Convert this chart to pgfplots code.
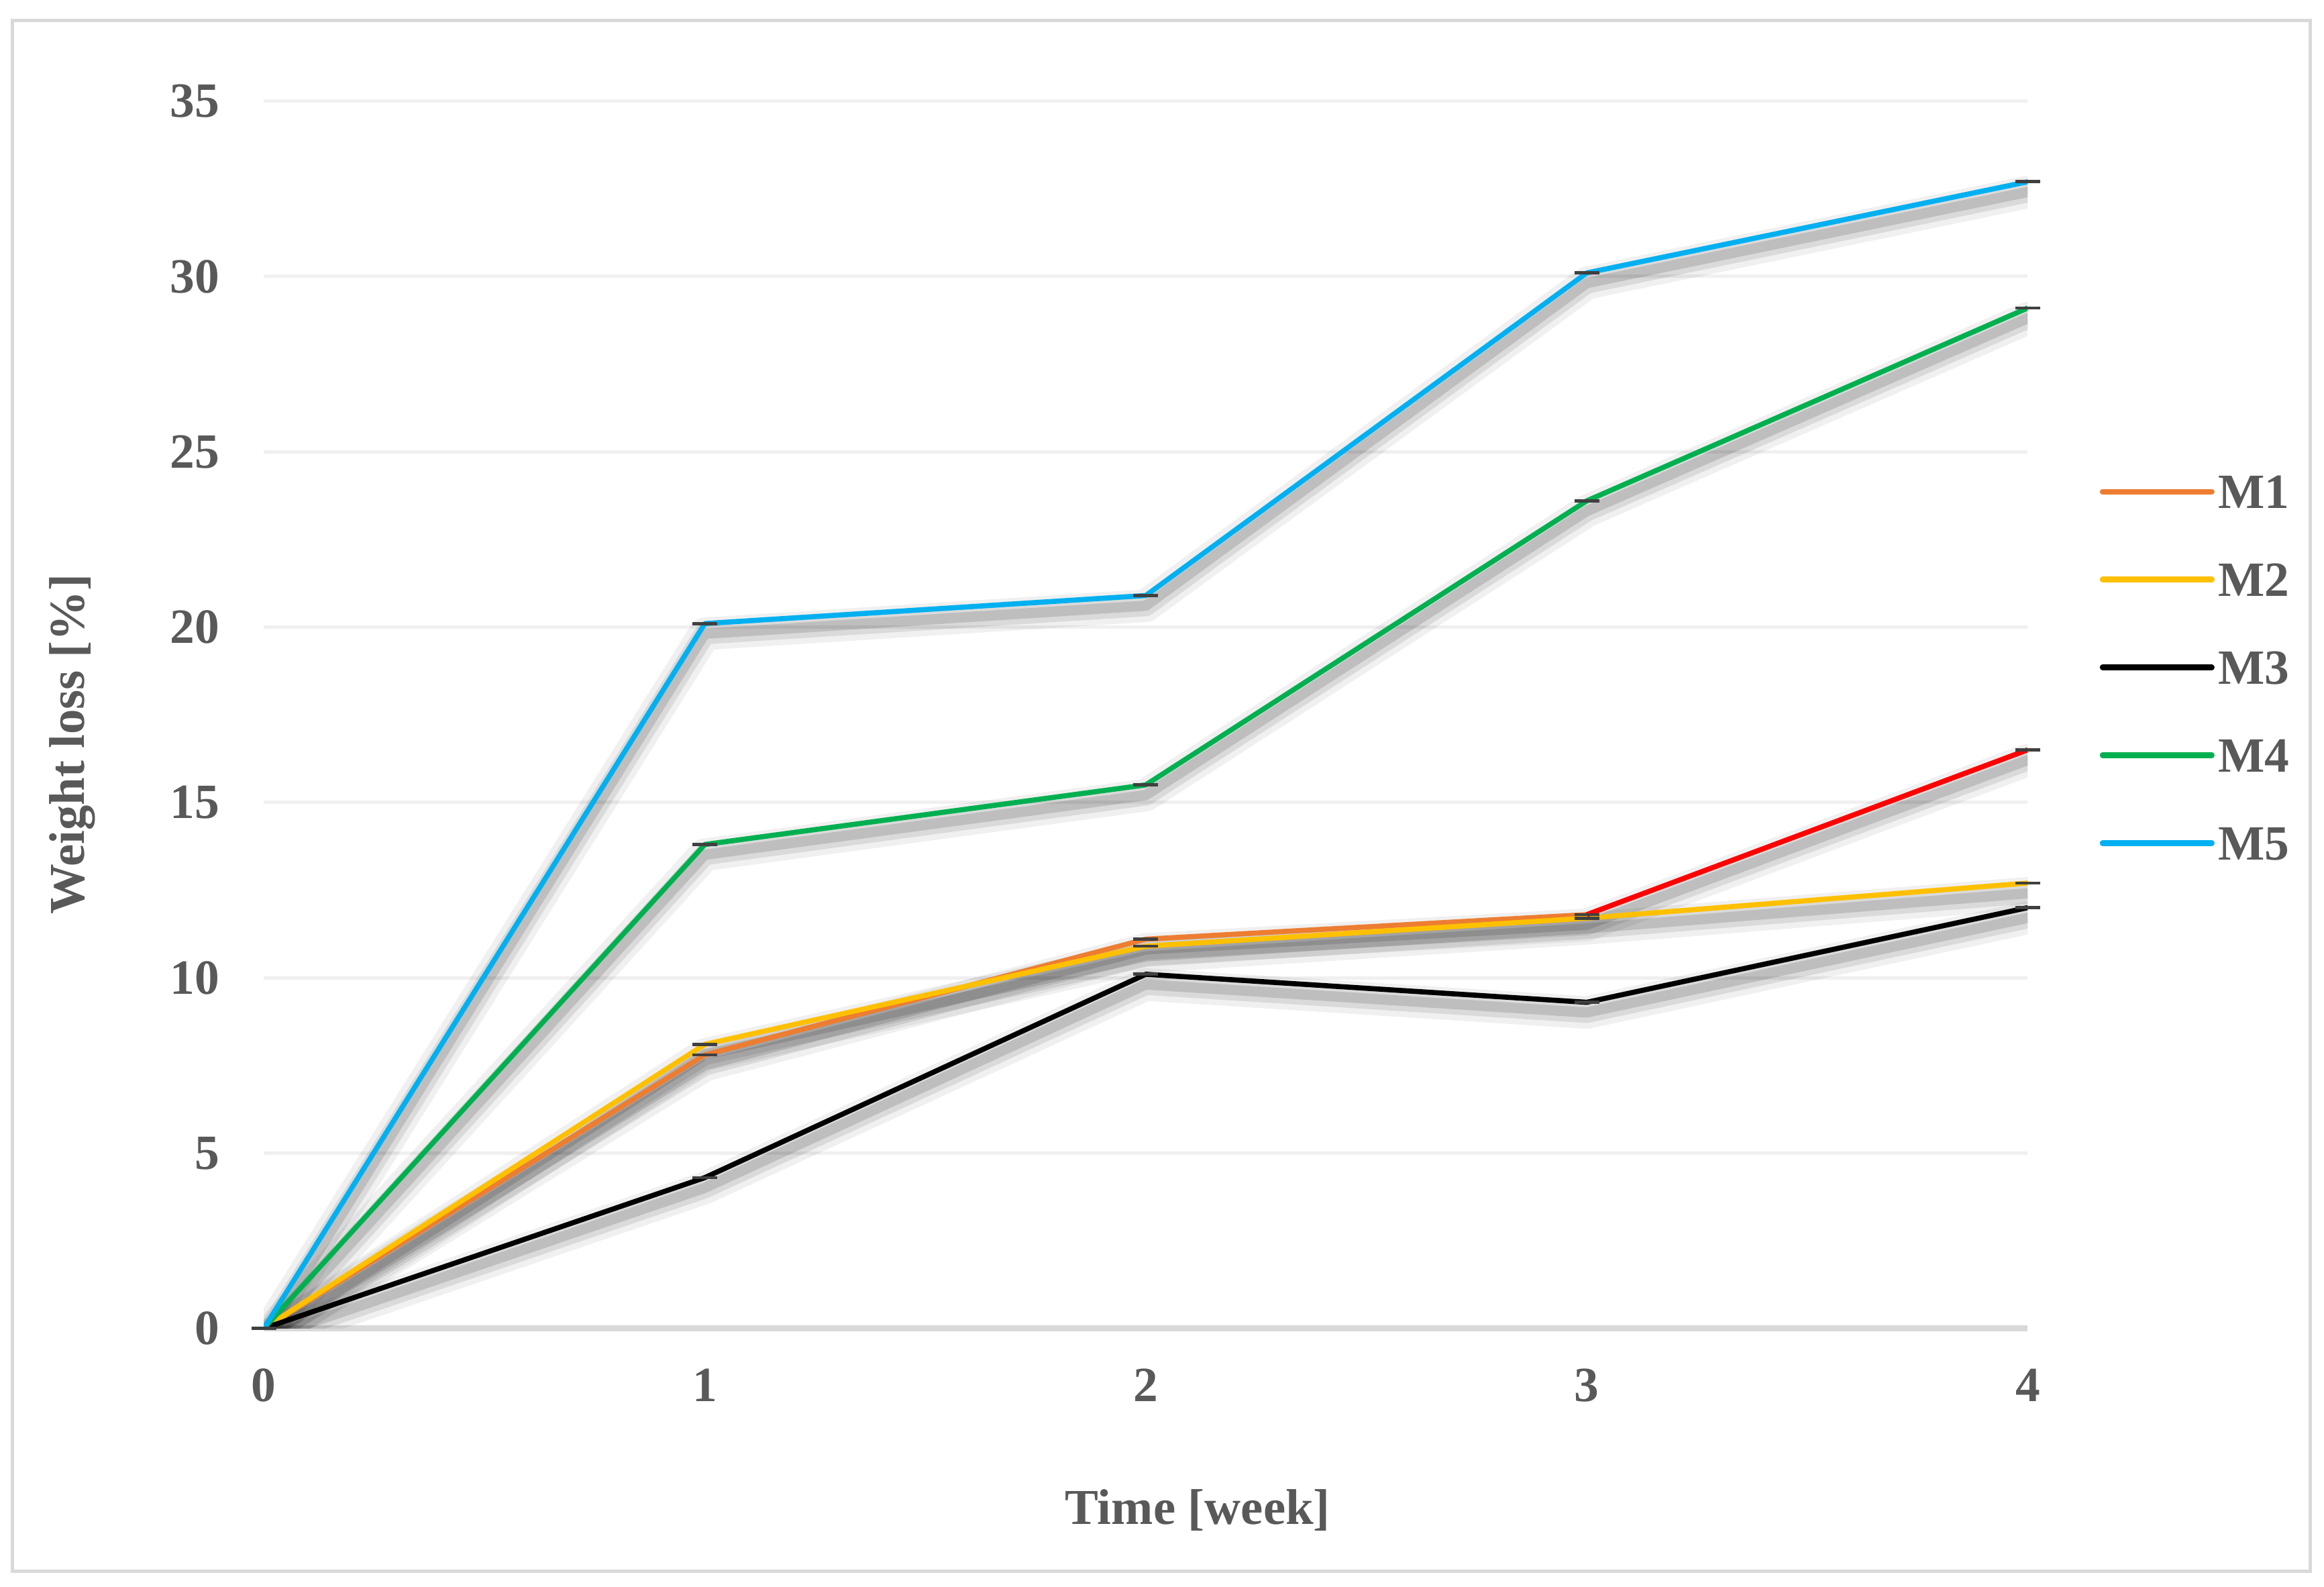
\documentclass[border=0pt]{standalone}
\usepackage{fontspec}
\setmainfont{Liberation Serif}
\usepackage{pgfplots}
\usepackage{pgfplotstable}
\pgfplotsset{compat=1.18}
\definecolor{cM1}{HTML}{ED7D31}
\definecolor{cM2}{HTML}{FFC000}
\definecolor{cM4}{HTML}{00B050}
\definecolor{cM5}{HTML}{00B0F0}
\definecolor{cRed}{HTML}{FF0000}
\definecolor{txt}{HTML}{595959}
\definecolor{gridc}{HTML}{F0F0F0}
\definecolor{axc}{HTML}{D9D9D9}
\definecolor{capc}{HTML}{404040}

\pgfplotstableread{
x M1 M2 M3 M4 M5
0 0 0 0 0 0
1 7.8 8.1 4.3 13.8 20.1
2 11.1 10.9 10.1 15.5 20.9
3 11.8 11.7 9.3 23.6 30.1
4 16.5 12.7 12.0 29.1 32.7
}\data

\begin{document}
\begin{tikzpicture}
\path[use as bounding box] (0,0) rectangle (500pt,341.23pt);
\begin{axis}[
  at={(56.76pt,55.49pt)}, anchor=south west,
  scale only axis, width=379.5pt, height=264pt,
  xmin=0, xmax=4, ymin=0, ymax=35,
  xtick={0,1,2,3,4}, ytick={0,5,...,35},
  axis line style={draw=none},
  major tick length=0pt,
  ymajorgrids=true,
  grid style={draw=gridc, line width=0.72pt},
  extra y ticks={0}, extra y tick labels={},
  extra y tick style={grid style={draw=axc, line width=1.2pt}},
  /pgf/number format/assume math mode=true,
  ticklabel style={font=\fontsize{10.6}{12}\selectfont\bfseries, text=txt},
  x tick label style={yshift=-5.2pt},
  y tick label style={xshift=-6pt},
  xlabel={Time [week]},
  ylabel={Weight loss [\%]},
  label style={font=\fontsize{10.8}{12}\selectfont\bfseries, text=txt},
  x label style={at={(axis description cs:0.5294,-0.1595)}, anchor=base},
  y label style={at={(axis description cs:-0.1017,0.476)}, anchor=base, rotate=0},
  legend cell align=left,
  legend style={at={(axis description cs:1.0403,0.5386)}, anchor=west, draw=none, fill=none,
    font=\fontsize{10.6}{12}\selectfont\bfseries, text=txt,
    row sep=11.6pt, inner sep=0pt,
    nodes={inner xsep=0.8pt, inner ysep=0pt, text height=7.3pt, text depth=0pt}},
  legend image code/.code={\draw[#1, mark=none, line width=1.2pt, line cap=round] (0pt,0pt) -- (23.5pt,0pt);},
  every axis plot/.append style={line width=1.1pt, line join=round, mark=-, mark size=2.65pt,
    mark options={draw=capc, line width=0.7pt}},
  shadow/.style={forget plot, draw=black, no marks, line join=round, line cap=round, yshift=-2.2pt},
]
\pgfplotsinvokeforeach{M1,M2,M3,M4,M5}{
  \addplot[shadow, opacity=0.06, line width=7pt] table[x=x, y=#1]{\data};
  \addplot[shadow, opacity=0.09, line width=4.5pt] table[x=x, y=#1]{\data};
  \addplot[shadow, opacity=0.13, line width=2.2pt] table[x=x, y=#1]{\data};
}
\addplot[color=cM1, restrict x to domain=0:3] table[x=x, y=M1]{\data};
\addlegendentry{M1}
\addplot[color=cM2] table[x=x, y=M2]{\data};
\addlegendentry{M2}
\addplot[color=black] table[x=x, y=M3]{\data};
\addlegendentry{M3}
\addplot[color=cM4] table[x=x, y=M4]{\data};
\addlegendentry{M4}
\addplot[color=cM5] table[x=x, y=M5]{\data};
\addlegendentry{M5}
\addplot[color=cRed, forget plot, restrict x to domain=3:4] table[x=x, y=M1]{\data};
\end{axis}
\draw[draw=axc, line width=0.72pt] (2.74pt,3.32pt) rectangle (497.1pt,336.76pt);
\end{tikzpicture}
\end{document}
